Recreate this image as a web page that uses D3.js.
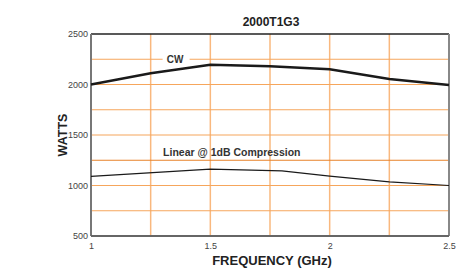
<html>
<head>
<meta charset="utf-8">
<title>2000T1G3</title>
<style>
  body { margin: 0; background: #fff; }
  text { font-family: "Liberation Sans", Arial, sans-serif; }
</style>
<script src="https://d3js.org/d3.v7.min.js"></script>
</head>
<body>
<svg width="475" height="270"></svg>
<script>
var freq = [1, 1.25, 1.5, 1.75, 2, 2.25, 2.5];
var cw = [2000, 2112, 2195, 2180, 2150, 2055, 1995];
var linFreq = [1, 1.5, 1.8, 2, 2.25, 2.5];
var linear = [1090, 1162, 1145, 1092, 1035, 1000];
var xTicks = [1, 1.5, 2, 2.5];
var yTicks = [500, 1000, 1500, 2000, 2500];
var xGrid = [1.25, 1.5, 1.75, 2, 2.25];
var yGrid = [750, 1000, 1500, 1750, 2000, 2250];

var svg = d3.select("svg"),
    margin = {top: 34, left: 91, right: 26, bottom: 34},
    width = 475 - margin.left - margin.right,
    height = 270 - margin.top - margin.bottom,
    g = svg.append("g").attr("transform", `translate(${margin.left},${margin.top})`);

var x = d3.scaleLinear().domain([1, 2.5]).range([0, width]);
var y = d3.scaleLinear().domain([500, 2500]).range([height, 0]);

// grid
g.selectAll(".vg").data(xGrid).enter().append("line")
  .attr("x1", d => x(d)).attr("x2", d => x(d))
  .attr("y1", 0).attr("y2", height)
  .attr("stroke", "#f9b87e").attr("stroke-width", 1.5);
g.selectAll(".hg").data(yGrid).enter().append("line")
  .attr("x1", 0).attr("x2", width)
  .attr("y1", d => y(d)).attr("y2", d => y(d))
  .attr("stroke", "#f6a65c").attr("stroke-width", 1.2);
g.append("line")
  .attr("x1", 0).attr("x2", width)
  .attr("y1", y(1250)).attr("y2", y(1250))
  .attr("stroke", "#e8822a").attr("stroke-width", 1);

// borders
g.append("line").attr("x1", 0).attr("x2", width).attr("y1", 0).attr("y2", 0)
  .attr("stroke", "#222").attr("stroke-width", 1.3);
g.append("line").attr("x1", 0).attr("x2", 0).attr("y1", 0).attr("y2", height)
  .attr("stroke", "#777").attr("stroke-width", 2);
g.append("line").attr("x1", width).attr("x2", width).attr("y1", 0).attr("y2", height)
  .attr("stroke", "#888").attr("stroke-width", 2);
g.append("line").attr("x1", 0).attr("x2", width).attr("y1", height).attr("y2", height)
  .attr("stroke", "#666").attr("stroke-width", 2);

// axes
var xAxis = g.append("g").attr("transform", `translate(0,${height})`)
  .call(d3.axisBottom(x).tickValues(xTicks).tickFormat(d3.format("")).tickSize(0).tickPadding(7));
var yAxis = g.append("g")
  .call(d3.axisLeft(y).tickValues(yTicks).tickFormat(d3.format("d")).tickSize(0).tickPadding(3));
[xAxis, yAxis].forEach(a => {
  a.select(".domain").remove();
  a.selectAll("text").attr("fill", "#444").style("font-size", "9px");
});

// lines
var line = d3.line().x(d => x(d[0])).y(d => y(d[1]));
g.append("path").datum(d3.zip(freq, cw))
  .attr("d", line).attr("fill", "none").attr("stroke", "#1a1a1a").attr("stroke-width", 2.5);
g.append("path").datum(d3.zip(linFreq, linear))
  .attr("d", line).attr("fill", "none").attr("stroke", "#1a1a1a").attr("stroke-width", 1.2);

// labels
g.append("rect").attr("x", x(1.3)).attr("y", y(2250) - 6).attr("width", 27).attr("height", 12).attr("fill", "#fff");
g.append("text").attr("x", x(1.352)).attr("y", y(2250) + 4)
  .attr("text-anchor", "middle").attr("fill", "#333")
  .style("font-size", "10px").style("font-weight", "bold").text("CW");
g.append("text").attr("x", x(1.59)).attr("y", y(1250) - 4)
  .attr("text-anchor", "middle").attr("fill", "#333")
  .style("font-size", "10.5px").style("font-weight", "bold").text("Linear @ 1dB Compression");

svg.append("text").attr("x", 271).attr("y", 26)
  .attr("text-anchor", "middle").attr("fill", "#222")
  .style("font-size", "12px").style("font-weight", "bold").text("2000T1G3");
svg.append("text").attr("x", 272).attr("y", 265)
  .attr("text-anchor", "middle").attr("fill", "#222")
  .style("font-size", "13px").style("font-weight", "bold").text("FREQUENCY (GHz)");
svg.append("text").attr("transform", "translate(67,135) rotate(-90)")
  .attr("text-anchor", "middle").attr("fill", "#222")
  .style("font-size", "12.5px").style("font-weight", "bold").text("WATTS");
</script>
</body>
</html>
